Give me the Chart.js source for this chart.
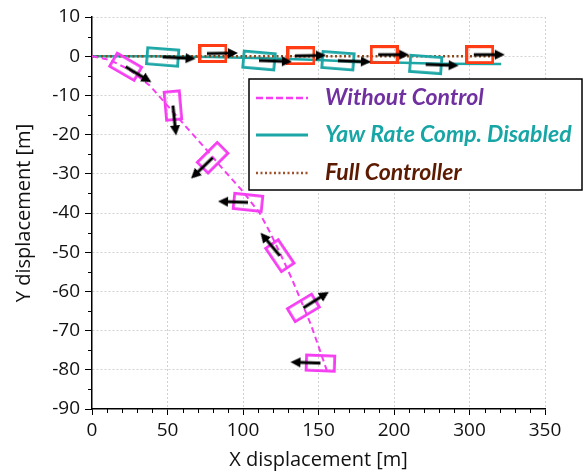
<!DOCTYPE html>
<html>
<head>
<meta charset="utf-8">
<script src="https://cdn.jsdelivr.net/npm/chart.js@4.4.1/dist/chart.umd.min.js"></script>
<style>
  html, body { margin: 0; padding: 0; background: #fff; }
</style>
</head>
<body>
<canvas id="chart" width="584" height="473"></canvas>
<script>
// axis tick labels (the x axis of the original is labelled 0..200, 300, 350)
const xTickLabels = ['0', '50', '100', '150', '200', '300', '350'];
const legendLabels = ['Without Control', 'Yaw Rate Comp. Disabled', 'Full Controller'];

// trajectories
const magPathX = [0, 12, 25, 38, 50, 62, 75, 87, 99, 111, 118, 124.5, 132, 139, 145, 150, 156];
const magPathY = [0, -1, -3.5, -7.4, -12.6, -17.9, -23.5, -28.9, -34.1, -40, -45, -50.2, -56.5, -62.9, -68.5, -74, -80.7];
const tealPathX = [0, 40, 80, 120, 150, 175, 200, 230, 271];
const tealPathY = [0, 0, -0.2, -0.6, -1.0, -1.4, -1.6, -1.9, -2.0];
const brownPathX = [0, 268];
const brownPathY = [0, 0];

// vehicle boxes (centre, box angle, heading of the arrow in degrees)
const magBoxX = [22.3, 53.6, 79.9, 103.3, 124.4, 140, 151.3];
const magBoxY = [-2.7, -12.6, -25.9, -37.3, -50.9, -64.2, -78.3];
const magBoxAngle = [30, 85, 135, 186, 236, -31, 182];
const magHeading = [31, 84, 136, 182, 230, -32, 182];

const tealBoxX = [46.8, 110.6, 162.9, 221];
const tealBoxY = [-0.2, -1.1, -1.15, -2.1];
const tealBoxAngle = [4.5, 5, 4.5, 4.2];
const tealHeading = [3, 2, 2, 2];

const redBoxX = [80.1, 138.4, 193.5, 256.8];
const redBoxY = [0.7, 0.1, 0.4, 0.4];
const redBoxAngle = [0, 0, 0, 0];
const redHeading = [-1, -1, 0, 0];

const MAGENTA = '#f53df2';
const TEAL = '#1ca6a6';
const RED = '#ff3c14';
const BROWN = '#8b4a1c';

const toPoints = (xs, ys) => xs.map((x, i) => ({x: x, y: ys[i]}));

// rectangle outline used as a point style
function makeBox(w, h, color, lw) {
    const c = document.createElement('canvas');
    c.width = w;
    c.height = h;
    const g = c.getContext('2d');
    g.strokeStyle = color;
    g.lineWidth = lw;
    g.strokeRect(lw / 2, lw / 2, w - lw, h - lw);
    return c;
}

// arrow drawn from the point (plus tail offset) to tip, pointing right
function makeArrow(tail, tip) {
    const half = Math.ceil(Math.max(Math.abs(tail), tip)) + 2;
    const c = document.createElement('canvas');
    c.width = half * 2;
    c.height = 12;
    const g = c.getContext('2d');
    const cy = 6, head = 10;
    g.strokeStyle = '#000';
    g.lineWidth = 3;
    g.beginPath();
    g.moveTo(half + tail, cy);
    g.lineTo(half + tip - head + 1, cy);
    g.stroke();
    g.fillStyle = '#000';
    g.beginPath();
    g.moveTo(half + tip, cy);
    g.lineTo(half + tip - head, cy - 5);
    g.lineTo(half + tip - head, cy + 5);
    g.closePath();
    g.fill();
    return c;
}

const magBox = makeBox(31, 18, MAGENTA, 2.8);
const tealBox = makeBox(34, 19, TEAL, 2.8);
const redBox = makeBox(29, 19, RED, 3);
const magArrow = makeArrow(0, 30);
const tealArrow = makeArrow(0, 33);
const redArrow = makeArrow(-6, 25);

function pathSet(xs, ys, color, width, dash, order) {
    return {
        data: toPoints(xs, ys),
        showLine: true,
        borderColor: color,
        borderWidth: width,
        borderDash: dash,
        pointRadius: 0,
        fill: false,
        order: order
    };
}

function markSet(xs, ys, style, angles, order) {
    return {
        data: toPoints(xs, ys),
        showLine: false,
        pointStyle: style,
        pointRotation: angles,
        pointRadius: 1,
        order: order
    };
}

// minor tick marks on both axes
const minorTicks = {
    id: 'minorTicks',
    afterDraw(chart) {
        const {ctx, scales: {x, y}} = chart;
        ctx.save();
        ctx.strokeStyle = '#000';
        ctx.lineWidth = 1;
        ctx.beginPath();
        for (let v = 0; v <= 300; v += 10) {
            if (v % 50 === 0) continue;
            const px = Math.round(x.getPixelForValue(v)) + 0.5;
            ctx.moveTo(px, y.bottom);
            ctx.lineTo(px, y.bottom + 4);
        }
        for (let v = -90; v <= 10; v += 5) {
            if (v % 10 === 0) continue;
            const py = Math.round(y.getPixelForValue(v)) + 0.5;
            ctx.moveTo(x.left - 4, py);
            ctx.lineTo(x.left, py);
        }
        ctx.stroke();
        ctx.restore();
    }
};

// framed legend inside the plot
const legendBox = {
    id: 'legendBox',
    afterDraw(chart) {
        const ctx = chart.ctx;
        const colors = [MAGENTA, TEAL, '#a0522d'];
        const textColors = ['#7030a0', '#17a5a5', '#5c1a00'];
        const dashes = [[7, 3], [], [2, 2.5]];
        const rows = [98, 135, 173];
        ctx.save();
        ctx.fillStyle = '#fff';
        ctx.fillRect(249, 79, 333, 111);
        ctx.strokeStyle = '#000';
        ctx.lineWidth = 1.5;
        ctx.strokeRect(249, 79, 333, 111);
        ctx.font = 'italic bold 23px Lato';
        ctx.textBaseline = 'middle';
        legendLabels.forEach((label, i) => {
            ctx.strokeStyle = colors[i];
            ctx.lineWidth = i === 1 ? 3 : 2.5;
            ctx.setLineDash(dashes[i]);
            ctx.beginPath();
            ctx.moveTo(256, rows[i]);
            ctx.lineTo(308, rows[i]);
            ctx.stroke();
            ctx.setLineDash([]);
            ctx.fillStyle = textColors[i];
            ctx.fillText(label, 325, rows[i]);
        });
        ctx.restore();
    }
};

const gridColor = '#d2d2d2';

new Chart(document.getElementById('chart'), {
    type: 'scatter',
    data: {
        datasets: [
            pathSet(tealPathX, tealPathY, TEAL, 2.5, [], 9),
            pathSet(brownPathX, brownPathY, BROWN, 2.5, [2, 2.5], 8),
            pathSet(magPathX, magPathY, MAGENTA, 2, [6, 4], 7),
            markSet(magBoxX, magBoxY, magBox, magBoxAngle, 6),
            markSet(tealBoxX, tealBoxY, tealBox, tealBoxAngle, 5),
            markSet(redBoxX, redBoxY, redBox, redBoxAngle, 4),
            markSet(magBoxX, magBoxY, magArrow, magHeading, 3),
            markSet(tealBoxX, tealBoxY, tealArrow, tealHeading, 2),
            markSet(redBoxX, redBoxY, redArrow, redHeading, 1)
        ]
    },
    options: {
        responsive: false,
        animation: false,
        events: [],
        layout: { padding: { top: 17, right: 39, left: 0, bottom: 0 } },
        plugins: {
            legend: { display: false },
            tooltip: { enabled: false }
        },
        scales: {
            x: {
                type: 'linear',
                min: 0,
                max: 300,
                afterFit: (scale) => { scale.height = 64; },
                ticks: {
                    stepSize: 50,
                    maxRotation: 0,
                    padding: 4,
                    color: '#111',
                    font: { family: 'Open Sans', size: 19 },
                    callback: (value, index) => xTickLabels[index]
                },
                grid: {
                    color: (c) => (c.tick && c.tick.value === 0 ? 'rgba(0,0,0,0)' : gridColor),
                    lineWidth: 1,
                    tickColor: '#000',
                    tickLength: 6
                },
                border: { display: true, color: '#000', width: 1.5, dash: [2, 2] },
                title: {
                    display: true,
                    text: 'X displacement [m]',
                    color: '#111',
                    font: { family: 'Open Sans', size: 20 },
                    padding: { top: 0, bottom: 1 }
                }
            },
            y: {
                type: 'linear',
                min: -90,
                max: 10,
                afterFit: (scale) => { scale.width = 92; },
                ticks: {
                    stepSize: 10,
                    padding: 5,
                    color: '#111',
                    font: { family: 'Open Sans', size: 19 }
                },
                grid: {
                    color: (c) => (c.tick && c.tick.value === -90 ? 'rgba(0,0,0,0)' : gridColor),
                    lineWidth: 1,
                    tickColor: '#000',
                    tickLength: 7
                },
                border: { display: true, color: '#000', width: 1.5, dash: [2, 2] },
                title: {
                    display: true,
                    text: 'Y displacement [m]',
                    color: '#111',
                    font: { family: 'Open Sans', size: 20 },
                    padding: { top: 12, bottom: 0 }
                }
            }
        }
    },
    plugins: [minorTicks, legendBox]
});
</script>
</body>
</html>
